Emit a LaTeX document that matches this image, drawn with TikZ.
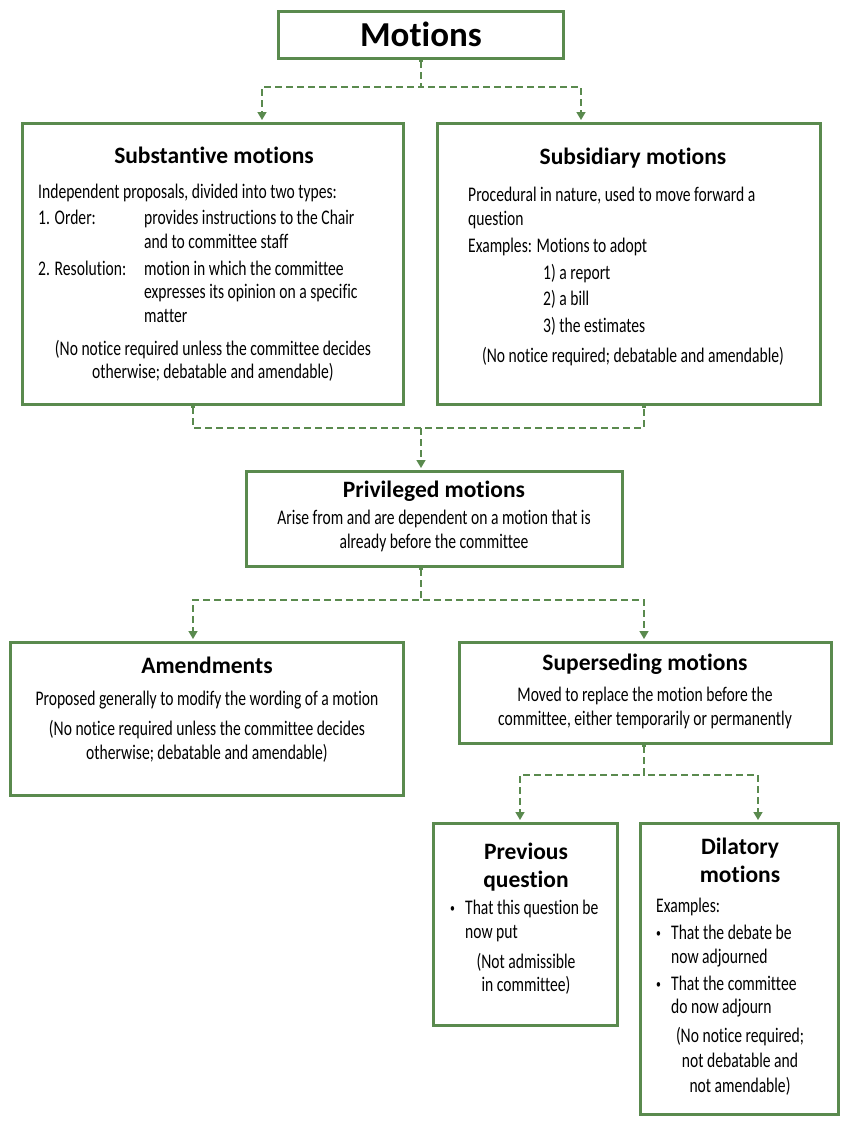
\documentclass[tikz,border=0pt]{standalone}
\usepackage{fontspec}
\setmainfont{Carlito}[FakeStretch=0.75,Ligatures=NoCommon]
\newfontfamily\headfont{Carlito}[Ligatures=NoCommon]
\usetikzlibrary{arrows.meta,calc}
\definecolor{motgreen}{RGB}{90,138,78}
\newcommand{\bodysize}{\fontsize{20.8pt}{23.5pt}\selectfont}
\newcommand{\dotitem}{\makebox[15pt][l]{\raisebox{2pt}{\fontsize{13pt}{13pt}\selectfont\textbullet}}}
\begin{document}
\begin{tikzpicture}[x=1pt,y=-1pt,
  box/.style={draw=motgreen,line width=3pt,anchor=north west,inner sep=0pt},
  head/.style={font=\headfont\bfseries\fontsize{23.5pt}{28pt}\selectfont,align=center,inner sep=0pt},
  body/.style={font=\bodysize,align=left,inner sep=0pt,anchor=north west},
  note/.style={font=\bodysize,align=center,inner sep=0pt,anchor=north},
  link/.style={draw=motgreen,line width=1.5pt,dash pattern=on 7pt off 4pt,shorten >=2pt,shorten <=-2pt,
    {Square[length=4pt,width=4pt]}-{Triangle[length=8pt,width=9pt]}},
  merge/.style={link,shorten >=-2pt,{Square[length=4pt,width=4pt]}-{Square[length=4pt,width=4pt]}},
  stem/.style={link,shorten <=0pt,-{Triangle[length=8pt,width=9pt]}}]
\useasboundingbox (0,0) rectangle (848,1124);
% boxes
\node[box,minimum width=285pt,minimum height=47pt] (mot) at (277,10) {};
\node[box,minimum width=381pt,minimum height=281pt] (sub) at (21,122) {};
\node[box,minimum width=383pt,minimum height=281pt] (subs) at (436,122) {};
\node[box,minimum width=376pt,minimum height=95pt] (pri) at (245,470) {};
\node[box,minimum width=393pt,minimum height=153pt] (ame) at (9,641) {};
\node[box,minimum width=372pt,minimum height=101pt] (sup) at (458,641) {};
\node[box,minimum width=184pt,minimum height=202pt] (pre) at (432,822) {};
\node[box,minimum width=198pt,minimum height=291pt] (dil) at (639,822) {};
\coordinate (xa) at (193,0);
\coordinate (xb) at (262,0);
\coordinate (xc) at (581,0);
\coordinate (xd) at (644,0);
\coordinate (xe) at (520,0);
\coordinate (xf) at (758,0);
% titles
\node[head,anchor=base,font=\headfont\bfseries\fontsize{35pt}{40pt}\selectfont] (motT) at (421,47) {Motions};
\node[head,anchor=base] (subT) at (214,163) {Substantive motions};
\node[head,anchor=base] (subsT) at (633,164) {Subsidiary motions};
\node[head,anchor=base] (priT) at (434,497) {Privileged motions};
\node[head,anchor=base] (ameT) at (207,673) {Amendments};
\node[head,anchor=base] (supT) at (645,670) {Superseding motions};
\node[head,anchor=north] (preT) at (526,843) {Previous\\question};
\node[head,anchor=north] (dilT) at (740,838) {Dilatory\\motions};
% texts
\node[body] (subB) at (38,184) {Independent proposals, divided into two types:\\[2.5pt]
  \makebox[106pt][l]{1. Order:}provides instructions to the Chair\\
  \hspace*{106pt}and to committee staff\\[3.5pt]
  \makebox[106pt][l]{2. Resolution:}motion in which the committee\\
  \hspace*{106pt}expresses its opinion on a specific\\
  \hspace*{106pt}matter};
\node[note] (subN) at (213,340) {(No notice required unless the committee decides\\otherwise; debatable and amendable)};
\node[body] (subsB) at (468,187) {Procedural in nature, used to move forward a\\
  question\\[3.5pt]
  Examples: Motions to adopt\\[3.5pt]
  \hspace*{75pt}1) a report\\[3pt]
  \hspace*{75pt}2) a bill\\[3pt]
  \hspace*{75pt}3) the estimates};
\node[note] (subsN) at (633,347) {(No notice required; debatable and amendable)};
\node[note] (priB) at (434,510) {Arise from and are dependent on a motion that is\\already before the committee};
\node[note] (ameB) at (207,691) {Proposed generally to modify the wording of a motion\\[6.5pt]
  (No notice required unless the committee decides\\otherwise; debatable and amendable)};
\node[note] (supB) at (645,687) {Moved to replace the motion before the\\committee, either temporarily or permanently};
\node[body] (preB) at (450,900) {\dotitem That this question be\\\hspace*{15pt}now put};
\node[note] (preN) at (526,953) {(Not admissible\\in committee)};
\node[body] (dilB) at (656,898) {Examples:\\[3.5pt]
  \dotitem That the debate be\\\hspace*{15pt}now adjourned\\[3.5pt]
  \dotitem That the committee\\\hspace*{15pt}do now adjourn};
\node[note] (dilN) at (740,1027) {(No notice required;\\[1.5pt]not debatable and\\[1.5pt]not amendable)};
% connectors
\draw[link] (mot.south) -- ++(0,27) -| (sub.north -| xb);
\draw[link] (mot.south) -- ++(0,27) -| (subs.north -| xc);
\draw[merge] (sub.south -| xa) -- ++(0,22) -| (subs.south -| xd);
\draw[stem] ($(sub.south -| mot)+(0,22)$) -- (pri.north -| mot);
\draw[link] (pri.south -| mot) -- ++(0,32) -| (ame.north -| xa);
\draw[link] (pri.south -| mot) -- ++(0,32) -| (sup.north -| xd);
\draw[link] (sup.south -| xd) -- ++(0,30) -| (pre.north -| xe);
\draw[link] (sup.south -| xd) -- ++(0,30) -| (dil.north -| xf);
\end{tikzpicture}
\end{document}
